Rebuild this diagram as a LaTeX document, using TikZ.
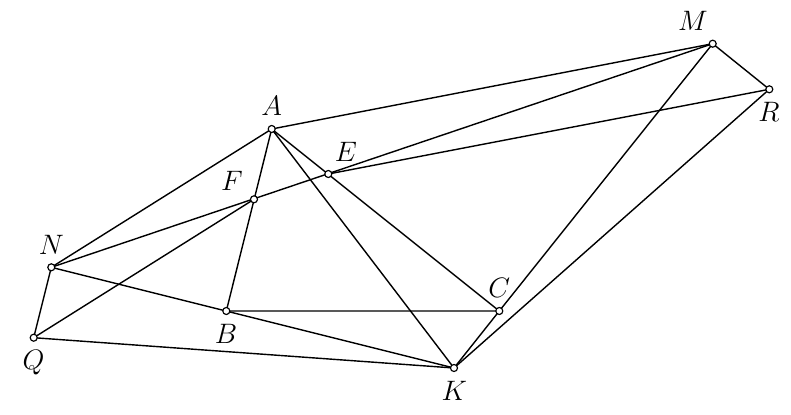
\documentclass[tikz,border=0pt]{standalone}
\usetikzlibrary{calc}
\begin{document}
\begin{tikzpicture}[x=0.015cm,y=-0.015cm,line width=0.6pt,
	pt/.style={circle,draw,fill=white,line width=0.5pt,inner sep=0pt,minimum size=3pt},
	every label/.style={inner sep=1pt,label distance=2.5pt,font=\fontsize{11.5}{13}\selectfont}]
	\useasboundingbox (0,0) rectangle (791,415);
	\coordinate (A) at (271.7,129);
	\coordinate (B) at (226.3,311);
	\coordinate (C) at (499.3,311);
	\coordinate (K) at (454,368);
	\coordinate (M) at (712.7,43.7);
	\coordinate (R) at (769.3,89.3);
	\coordinate (N) at (51.3,267.3);
	\coordinate (Q) at (33.7,337.7);
	\coordinate (F) at (254,199.3);% AB meets NM
	\coordinate (E) at (328.3,174);% AC meets NM
	\draw (N) -- (A) -- (M) -- (R) -- (K) -- (Q) -- (N);% outer polygon
	\draw (A) -- (B) -- (C) -- cycle;% triangle ABC
	\draw (N) -- (K);% through B
	\draw (N) -- (M);% through F and E
	\draw (A) -- (K);
	\draw (C) -- (K);
	\draw (C) -- (M);
	\draw (Q) -- (F);
	\draw (E) -- (R);
	\foreach \p/\a in {A/90,B/-91,C/90,E/70,F/146,K/-88,M/102,N/90,Q/-91,R/-92}
		\node[pt,label={\a:$\p$}] (\p pt) at (\p) {};
\end{tikzpicture}
\end{document}
